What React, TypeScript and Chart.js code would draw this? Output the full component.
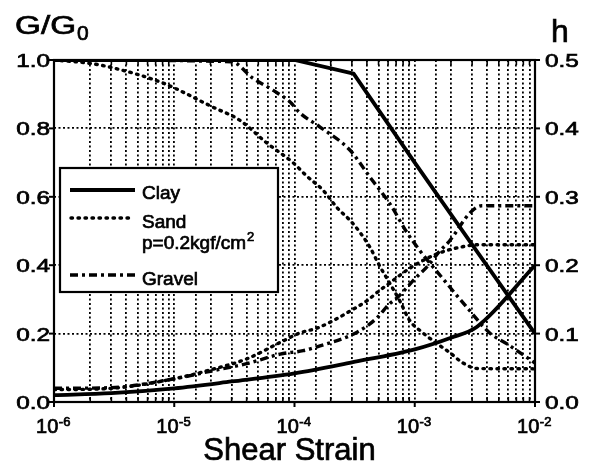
import { useEffect, useRef } from "react";
import { Chart, registerables } from "chart.js";

Chart.register(...registerables);

const FONT = "'Liberation Sans', Arial, Helvetica, sans-serif";

// x axis: shear strain decades, 10^n
const strainExponents = [-6, -5, -4, -3, -2];
// left axis: shear modulus ratio G/G0
const ratioTicks = [0, 0.2, 0.4, 0.6, 0.8, 1.0];
const ratioTickLabels = ["0.0", "0.2", "0.4", "0.6", "0.8", "1.0"];
// right axis: damping ratio h
const dampingTicks = [0, 0.1, 0.2, 0.3, 0.4, 0.5];
const dampingTickLabels = ["0.0", "0.1", "0.2", "0.3", "0.4", "0.5"];

// Clay
const clayRatioStrain = [1e-6, 1e-4, 3.1e-4, 1e-3, 3e-3, 1e-2];
const clayRatio = [1.0, 1.0, 0.96, 0.7, 0.46, 0.2];
const clayDampingStrain = [1e-6, 3e-6, 1e-5, 3e-5, 1e-4, 3e-4, 1e-3, 2e-3, 3.3e-3, 1e-2];
const clayDamping = [0.01, 0.013, 0.02, 0.03, 0.042, 0.058, 0.077, 0.094, 0.11, 0.2];

// Sand, p = 0.2 kgf/cm2
const sandRatioStrain = [
  1e-6, 2e-6, 3.1e-6, 8e-6, 2.1e-5, 3.5e-5, 5.9e-5, 9.7e-5, 1.27e-4, 1.73e-4,
  2.3e-4, 2.9e-4, 3.5e-4, 4.25e-4, 5.1e-4, 5.9e-4, 7.5e-4, 9.1e-4, 1.17e-3,
  1.42e-3, 1.96e-3, 2.52e-3, 3.3e-3, 1e-2,
];
const sandRatio = [
  1.0, 0.99, 0.977, 0.933, 0.862, 0.824, 0.757, 0.7, 0.66, 0.619,
  0.565, 0.531, 0.496, 0.452, 0.398, 0.36, 0.296, 0.238, 0.202,
  0.179, 0.144, 0.114, 0.098, 0.097,
];
const sandDampingStrain = [
  1e-6, 3e-6, 1e-5, 2e-5, 4e-5, 8e-5, 1.11e-4, 1.54e-4, 2.1e-4, 2.9e-4, 4e-4,
  5.1e-4, 6.2e-4, 9e-4, 1.5e-3, 2.5e-3, 3.5e-3, 1e-2,
];
const sandDamping = [
  0.018, 0.02, 0.034, 0.047, 0.063, 0.089, 0.101, 0.108, 0.119, 0.133, 0.148,
  0.163, 0.174, 0.195, 0.216, 0.227, 0.23, 0.23,
];

// Gravel
const gravelRatioStrain = [
  1e-6, 3e-5, 4.5e-5, 6.6e-5, 9.2e-5, 1.11e-4, 1.63e-4, 2.9e-4, 4.25e-4, 6.2e-4,
  8.6e-4, 1.1e-3, 1.72e-3, 2.77e-3, 4.2e-3, 5.85e-3, 1e-2,
];
const gravelRatio = [
  1.0, 0.995, 0.947, 0.912, 0.877, 0.845, 0.804, 0.736, 0.657, 0.58,
  0.496, 0.443, 0.36, 0.273, 0.202, 0.17, 0.114,
];
const gravelDampingStrain = [
  1e-6, 3e-6, 1e-5, 2e-5, 4e-5, 7.6e-5, 1.18e-4, 1.63e-4, 2.9e-4, 4e-4, 4.85e-4,
  6.2e-4, 7.1e-4, 1e-3, 1.3e-3, 1.62e-3, 1.96e-3, 2.86e-3, 3.6e-3, 1e-2,
];
const gravelDamping = [
  0.02, 0.021, 0.034, 0.045, 0.056, 0.07, 0.075, 0.082, 0.097, 0.111, 0.123,
  0.144, 0.152, 0.18, 0.2, 0.221, 0.236, 0.276, 0.287, 0.287,
];

const legendRows = ["Clay", "Sand", "Gravel"];
const sandPressureLabel = "p=0.2kgf/cm";

const pts = (xs: number[], ys: number[]) => xs.map((x, i) => ({ x, y: ys[i] }));

const clayStyle = { borderColor: "#000", borderWidth: 3.8, borderDash: [] as number[], borderCapStyle: "butt" };
const sandStyle = { borderColor: "#000", borderWidth: 3.4, borderDash: [1.5, 5.5], borderCapStyle: "round" };
const gravelStyle = { borderColor: "#000", borderWidth: 3.4, borderDash: [8, 4, 3, 4], borderCapStyle: "butt" };

// filled text with a hairline outline so glyphs carry the heavier print weight
function ink(ctx: CanvasRenderingContext2D, text: string, x: number, y: number) {
  ctx.fillText(text, x, y);
  ctx.save();
  ctx.lineWidth = 0.7;
  ctx.setLineDash([]);
  ctx.strokeStyle = ctx.fillStyle as string;
  ctx.strokeText(text, x, y);
  ctx.restore();
}

function stretchedText(ctx: CanvasRenderingContext2D, text: string, x: number, baseline: number, size: number, sx: number, align: "left" | "right") {
  ctx.font = `${size}px ${FONT}`;
  const w = ctx.measureText(text).width * sx;
  const left = align === "right" ? x - w : x;
  ctx.save();
  ctx.translate(left, baseline);
  ctx.scale(sx, 1);
  ctx.textAlign = "left";
  ctx.textBaseline = "alphabetic";
  ink(ctx, text, 0, 0);
  ctx.restore();
}

function strokeSample(ctx: CanvasRenderingContext2D, style: any, x0: number, x1: number, y: number) {
  ctx.save();
  ctx.lineWidth = style.borderWidth;
  ctx.setLineDash(style.borderDash);
  ctx.lineCap = style.borderCapStyle;
  ctx.beginPath();
  ctx.moveTo(x0, y);
  ctx.lineTo(x1, y);
  ctx.stroke();
  ctx.restore();
}

const decorations = {
  id: "decorations",
  afterDraw(chart: any) {
    const { ctx, chartArea: a, scales } = chart;
    const sx = scales.x;
    const sy = scales.y;
    const sy1 = scales.y1;
    ctx.save();
    ctx.fillStyle = "#000";
    ctx.strokeStyle = "#000";
    ctx.setLineDash([]);

    // plot frame
    ctx.lineWidth = 2.2;
    ctx.strokeRect(a.left, a.top, a.right - a.left, a.bottom - a.top);

    // left axis ticks and labels
    ratioTicks.forEach((v, i) => {
      const py = sy.getPixelForValue(v);
      ctx.lineWidth = 2;
      ctx.beginPath();
      ctx.moveTo(a.left - 5, py);
      ctx.lineTo(a.left, py);
      ctx.stroke();
      stretchedText(ctx, ratioTickLabels[i], a.left - 4, py + 7, 19, 1.28, "right");
    });

    // right axis ticks and labels
    dampingTicks.forEach((v, i) => {
      const py = sy1.getPixelForValue(v);
      ctx.lineWidth = 2;
      ctx.beginPath();
      ctx.moveTo(a.right, py);
      ctx.lineTo(a.right + 5, py);
      ctx.stroke();
      stretchedText(ctx, dampingTickLabels[i], a.right + 10, py + 7, 19, 1.28, "left");
    });

    // x axis: decade ticks outward, minor ticks inward
    strainExponents.forEach((e, i) => {
      const px = sx.getPixelForValue(Math.pow(10, e));
      ctx.lineWidth = 2;
      ctx.beginPath();
      ctx.moveTo(px, a.bottom);
      ctx.lineTo(px, a.bottom + 5);
      ctx.stroke();
      if (i < strainExponents.length - 1) {
        for (let m = 2; m <= 9; m++) {
          const mx = sx.getPixelForValue(m * Math.pow(10, e));
          ctx.lineWidth = 1.6;
          ctx.beginPath();
          ctx.moveTo(mx, a.bottom - 5);
          ctx.lineTo(mx, a.bottom);
          ctx.moveTo(mx, a.top);
          ctx.lineTo(mx, a.top + 5);
          ctx.stroke();
        }
      }
      const base = "10";
      const exp = String(e);
      ctx.font = `20px ${FONT}`;
      const wb = ctx.measureText(base).width;
      ctx.font = `13px ${FONT}`;
      const we = ctx.measureText(exp).width;
      const start = px - (wb + we) / 2 - 1;
      ctx.textAlign = "left";
      ctx.textBaseline = "alphabetic";
      ctx.font = `20px ${FONT}`;
      ink(ctx, base, start, a.bottom + 31);
      ctx.font = `13px ${FONT}`;
      ink(ctx, exp, start + wb + 0.5, a.bottom + 24);
    });

    // axis titles
    ctx.font = `31px ${FONT}`;
    ctx.textAlign = "center";
    ctx.textBaseline = "alphabetic";
    ink(ctx, "Shear Strain", (a.left + a.right) / 2 - 5, a.bottom + 58);

    stretchedText(ctx, "G/G", 15, 34, 26, 1.28, "left");
    ctx.font = `26px ${FONT}`;
    const gw = ctx.measureText("G/G").width * 1.28;
    ctx.font = `21px ${FONT}`;
    ctx.textAlign = "left";
    ink(ctx, "0", 15 + gw + 1, 40);

    ctx.font = `32px ${FONT}`;
    ink(ctx, "h", a.right + 16, 42);

    // legend
    const lx = 60, ly = 168, lw = 218, lh = 124;
    ctx.fillStyle = "#fff";
    ctx.fillRect(lx, ly, lw, lh);
    ctx.lineWidth = 2.2;
    ctx.strokeStyle = "#000";
    ctx.strokeRect(lx, ly, lw, lh);
    ctx.fillStyle = "#000";

    strokeSample(ctx, clayStyle, 70, 135, 190);
    strokeSample(ctx, sandStyle, 71, 134, 218);
    strokeSample(ctx, gravelStyle, 70, 135, 275);

    ctx.font = `19px ${FONT}`;
    ctx.textAlign = "left";
    ink(ctx, legendRows[0], 142, 199);
    ink(ctx, legendRows[1], 142, 228);
    ink(ctx, sandPressureLabel, 142, 249);
    const pw = ctx.measureText(sandPressureLabel).width;
    ctx.font = `13px ${FONT}`;
    ink(ctx, "2", 142 + pw + 1, 241);
    ctx.font = `19px ${FONT}`;
    ink(ctx, legendRows[2], 142, 285);

    ctx.restore();
  },
};

export default function App() {
  const canvasRef = useRef<HTMLCanvasElement | null>(null);

  useEffect(() => {
    const canvas = canvasRef.current;
    if (!canvas) return;

    const line = (data: any, axis: string, style: any, smooth: boolean) => ({
      data,
      yAxisID: axis,
      borderColor: style.borderColor,
      borderWidth: style.borderWidth,
      borderDash: style.borderDash,
      borderCapStyle: style.borderCapStyle,
      borderJoinStyle: "round",
      pointRadius: 0,
      fill: false,
      tension: 0,
      cubicInterpolationMode: smooth ? "monotone" : "default",
    });

    const chart = new Chart(canvas, {
      type: "line",
      data: {
        datasets: [
          line(pts(clayRatioStrain, clayRatio), "y", clayStyle, false),
          line(pts(clayDampingStrain, clayDamping), "y1", clayStyle, true),
          line(pts(sandRatioStrain, sandRatio), "y", sandStyle, true),
          line(pts(sandDampingStrain, sandDamping), "y1", sandStyle, true),
          line(pts(gravelRatioStrain, gravelRatio), "y", gravelStyle, true),
          line(pts(gravelDampingStrain, gravelDamping), "y1", gravelStyle, true),
        ] as any,
      },
      options: {
        responsive: false,
        animation: false,
        events: [],
        layout: { padding: { top: 60, left: 0, right: 0, bottom: 0 } },
        plugins: { legend: { display: false }, tooltip: { enabled: false } },
        scales: {
          x: {
            type: "logarithmic",
            min: 1e-6,
            max: 1e-2,
            ticks: { display: false, autoSkip: false },
            grid: { color: "#000", lineWidth: 1.8, drawTicks: false },
            border: { display: false, dash: [2, 2.5] },
            afterFit: (s: any) => { s.height = 69; },
          },
          y: {
            type: "linear",
            position: "left",
            min: 0,
            max: 1,
            ticks: { display: false, stepSize: 0.2 },
            grid: { color: "#000", lineWidth: 1.8, drawTicks: false },
            border: { display: false, dash: [2, 2.5] },
            afterFit: (s: any) => { s.width = 54; },
          },
          y1: {
            type: "linear",
            position: "right",
            min: 0,
            max: 0.5,
            ticks: { display: false, stepSize: 0.1 },
            grid: { display: false, drawOnChartArea: false, drawTicks: false },
            border: { display: false },
            afterFit: (s: any) => { s.width = 55; },
          },
        },
      } as any,
      plugins: [decorations],
    });

    return () => chart.destroy();
  }, []);

  return (
    <div style={{ position: "absolute", left: 0, top: 0, width: 590, height: 471, background: "#fff" }}>
      <canvas ref={canvasRef} width={590} height={471} style={{ display: "block" }} />
    </div>
  );
}
